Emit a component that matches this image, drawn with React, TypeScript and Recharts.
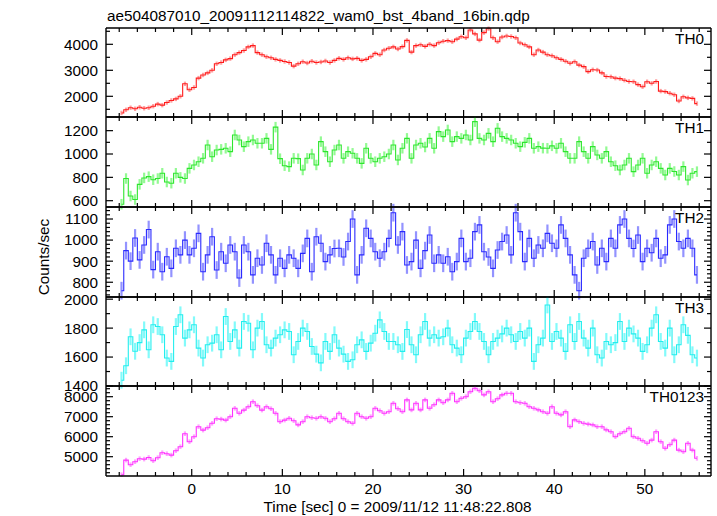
import React from 'react';
import { LineChart, Line, XAxis, YAxis, ErrorBar } from 'recharts';

// ---- data (0.5 s bins, bin centres start at -7.75 s) ----
const binStart = -7.75;
const binWidth = 0.5;

const th0 = [
  1360, 1480, 1560, 1520, 1580, 1540, 1560, 1620, 1700, 1660, 1760, 1840, 1900, 2000, 2480, 2250,
  2340, 2700, 2820, 2900, 3000, 3250, 3300, 3400, 3450, 3600, 3680, 3760, 3900, 3950, 3680, 3600,
  3520, 3480, 3420, 3380, 3340, 3300, 3160, 3250, 3330, 3280, 3350, 3300, 3320, 3360, 3300, 3380,
  3460, 3420, 3480, 3440, 3460, 3380, 3420, 3520, 3650, 3600, 3780, 3850, 3900, 3820, 3910, 4150,
  3700, 3950, 3980, 3920, 4000, 3950, 4060, 4120, 4140, 4100, 4200, 4290, 4250, 4550, 4400, 4160,
  4450, 4600, 4250, 4100, 4280, 4320, 4300, 4250, 4050, 3980, 3900, 3600, 3780, 3700, 3600, 3560,
  3480, 3420, 3350, 3270, 3330, 3200, 3140, 2950, 3020, 3010, 2900, 2760, 2750, 2700, 2680, 2620,
  2570, 2560, 2450, 2370, 2560, 2500, 2570, 2200, 2180, 2120, 2060, 1820, 1980, 1940, 1920, 1720,
];

const th1 = [
  570, 790, 640, 610, 740, 795, 806, 780, 790, 835, 760, 750, 835, 800, 790, 877,
  906, 934, 963, 1077, 977, 1034, 1040, 1049, 1020, 1163, 1120, 1063, 1106, 1120, 1092, 1092,
  1134, 1040, 1230, 960, 900, 892, 963, 960, 863, 963, 1000, 906, 1106, 1020, 934, 1034,
  1077, 963, 1020, 1006, 963, 920, 1049, 963, 934, 963, 977, 1000, 1077, 949, 1049, 1134,
  963, 1077, 1092, 1060, 1134, 1049, 1192, 1149, 1206, 1106, 1149, 1134, 1163, 1120, 1277, 1134,
  1120, 1177, 1106, 1220, 1149, 1134, 1120, 1092, 1063, 1100, 1134, 1049, 1063, 1050, 1049, 1070,
  1049, 1092, 1020, 963, 963, 1106, 1020, 963, 1063, 992, 963, 1020, 934, 900, 863, 906,
  963, 849, 906, 963, 835, 906, 934, 877, 820, 877, 850, 820, 892, 777, 835, 849,
];

const th2 = [
  760, 950, 900, 1010, 906, 977, 1050, 860, 945, 850, 921, 866, 961, 930, 1000, 930,
  961, 1032, 850, 930, 1016, 858, 945, 890, 977, 945, 820, 977, 945, 835, 914, 882,
  985, 930, 835, 914, 866, 930, 914, 866, 937, 1008, 850, 1016, 985, 898, 930, 960,
  961, 920, 993, 1100, 835, 930, 1056, 1008, 945, 914, 945, 1008, 1130, 977, 1040, 882,
  898, 1000, 866, 950, 1024, 890, 930, 890, 921, 850, 898, 1008, 898, 914, 1040, 1072,
  945, 920, 866, 953, 993, 1024, 930, 1130, 1040, 898, 1008, 914, 977, 961, 1032, 985,
  961, 1072, 1008, 930, 835, 760, 914, 961, 993, 882, 961, 898, 1008, 961, 1072, 1100,
  1008, 960, 1024, 898, 961, 940, 1008, 914, 930, 1072, 1100, 993, 961, 1008, 961, 835,
];

const th3 = [
  1440, 1540, 1740, 1640, 1700, 1788, 1650, 1823, 1811, 1754, 1593, 1570, 1811, 1892, 1731, 1788,
  1823, 1662, 1593, 1685, 1696, 1754, 1650, 1880, 1708, 1788, 1662, 1846, 1834, 1650, 1800, 1846,
  1685, 1662, 1731, 1754, 1788, 1777, 1616, 1708, 1800, 1777, 1673, 1620, 1560, 1708, 1639, 1754,
  1662, 1620, 1570, 1581, 1685, 1719, 1639, 1696, 1765, 1857, 1777, 1708, 1708, 1685, 1639, 1790,
  1685, 1616, 1754, 1846, 1731, 1754, 1731, 1740, 1800, 1685, 1662, 1616, 1731, 1777, 1846, 1777,
  1708, 1616, 1708, 1731, 1760, 1800, 1754, 1708, 1777, 1731, 1800, 1570, 1685, 1731, 1960, 1708,
  1777, 1731, 1639, 1823, 1708, 1846, 1731, 1662, 1800, 1616, 1593, 1708, 1685, 1700, 1846, 1708,
  1800, 1760, 1731, 1639, 1685, 1800, 1892, 1708, 1662, 1800, 1616, 1685, 1823, 1750, 1616, 1593,
];

const th0123 = [
  4100, 4830, 4600, 4750, 4900, 4880, 4960, 4800, 4950, 5200, 5150, 5080, 5300, 5500, 6150, 5750,
  6000, 6500, 6330, 6450, 6670, 6900, 6880, 6830, 7000, 7420, 7170, 7330, 7500, 7750, 7550, 7330,
  7500, 7400, 7170, 6750, 6830, 6920, 6800, 6590, 6750, 7000, 6950, 6920, 7000, 6920, 6750, 6900,
  7170, 6900, 6750, 6670, 7170, 7000, 6920, 7000, 7420, 7300, 7170, 7250, 7670, 7400, 7250, 7840,
  7340, 7670, 7340, 7840, 7420, 7600, 7840, 7700, 7840, 8170, 7750, 7920, 8000, 8250, 8420, 8300,
  8090, 8250, 7750, 7900, 8090, 8170, 8170, 7750, 7700, 7670, 7500, 7420, 7340, 7250, 7170, 7500,
  7170, 7090, 7250, 6500, 6840, 6750, 6670, 6630, 6590, 6500, 6500, 6340, 6250, 6000, 6150, 6250,
  6420, 6000, 5920, 5800, 5670, 5830, 6250, 5750, 5420, 5600, 5830, 5330, 5250, 5670, 5330, 4920,
];

// typical 1-sigma errors per band (counts/sec)
const th0Err = 85;
const th1Err = 45;
const th2Err = 42;
const th3Err = 58;
const th0123Err = 115;

// tick values
const xTicks = [-8, -6, -4, -2, 0, 2, 4, 6, 8, 10, 12, 14, 16, 18, 20, 22, 24, 26, 28, 30, 32, 34, 36, 38, 40, 42, 44, 46, 48, 50, 52, 54, 56];
const xMajor = [0, 10, 20, 30, 40, 50];

const th0Major = [2000, 3000, 4000];
const th0Minor = [1500, 2500, 3500, 4500];
const th1Major = [600, 800, 1000, 1200];
const th1Minor = [700, 900, 1100];
const th2Major = [800, 900, 1000, 1100];
const th2Minor = [740, 760, 780, 820, 840, 860, 880, 920, 940, 960, 980, 1020, 1040, 1060, 1080, 1120, 1140];
const th3Major = [1400, 1600, 1800, 2000];
const th3Minor = [1500, 1700, 1900];
const th0123Major = [5000, 6000, 7000, 8000];
const th0123Minor = [4200, 4400, 4600, 4800, 5200, 5400, 5600, 5800, 6200, 6400, 6600, 6800, 7200, 7400, 7600, 7800, 8200, 8400];

const titleText = 'ae504087010_20091112114822_wam0_bst_4band_16bin.qdp';
const yTitle = 'Counts/sec';
const xTitle = 'Time [sec] 0 = 2009/11/12 11:48:22.808';

const times = th0.map((_, i) => binStart + i * binWidth);

// ---- layout / style ----
const W = 717;
const FONT = '"Liberation Sans", Arial, Helvetica, sans-serif';
const FS = 15.3;
const X_DOMAIN: [number, number] = [-9.46, 57.3];
const PLOT_LEFT = 106;
const RIGHT_MARGIN = 6;
const BOTTOM_AXIS_H = 40;
const PAD = 12;
const AX = '#000';
const AXW = 1.4;

const panels = [
  { name: 'TH0', values: th0, err: th0Err, domain: [1204, 4627], major: th0Major, minor: th0Minor, top: 28, height: 89, color: '#ff1c1c', errColor: 'rgba(255,40,40,0.45)' },
  { name: 'TH1', values: th1, err: th1Err, domain: [546, 1317], major: th1Major, minor: th1Minor, top: 117, height: 90, color: '#2ee62e', errColor: 'rgba(40,245,40,0.5)' },
  { name: 'TH2', values: th2, err: th2Err, domain: [730, 1157], major: th2Major, minor: th2Minor, top: 207, height: 90, color: '#2a2aff', errColor: 'rgba(40,40,255,0.5)' },
  { name: 'TH3', values: th3, err: th3Err, domain: [1400, 2015], major: th3Major, minor: th3Minor, top: 297, height: 89, color: '#22eeee', errColor: 'rgba(30,245,245,0.55)' },
  { name: 'TH0123', values: th0123, err: th0123Err, domain: [4035, 8535], major: th0123Major, minor: th0123Minor, top: 386, height: 90, color: '#ff30ff', errColor: 'rgba(255,50,255,0.45)' },
];

const MAJ = 7;
const MIN = 4;

function Panel({ cfg, last }: { cfg: any; last: boolean }) {
  const data = times.map((t, i) => ({ t, v: cfg.values[i], e: cfg.err }));
  const h = PAD + cfg.height + (last ? BOTTOM_AXIS_H : PAD);
  const yTicks = [...cfg.major, ...cfg.minor].sort((a: number, b: number) => a - b);
  const isMaj = (v: number) => cfg.major.includes(v);

  const xBottom = (p: any) => {
    const v = p.payload.value;
    const major = xMajor.includes(v);
    const len = major ? MAJ : MIN;
    return (
      <g>
        <line x1={p.x} x2={p.x} y1={p.y} y2={p.y - len} stroke={AX} strokeWidth={1.2} />
        {last && major ? (
          <text x={p.x} y={p.y + 17.5} textAnchor="middle" fontFamily={FONT} fontSize={FS} fill="#000">{v}</text>
        ) : null}
      </g>
    );
  };
  const xTop = (p: any) => {
    const v = p.payload.value;
    const len = xMajor.includes(v) ? MAJ : MIN;
    return <line x1={p.x} x2={p.x} y1={p.y} y2={p.y + len} stroke={AX} strokeWidth={1.2} />;
  };
  const yLeft = (p: any) => {
    const v = p.payload.value;
    const major = isMaj(v);
    const len = major ? MAJ : MIN;
    return (
      <g>
        <line x1={p.x} x2={p.x + len} y1={p.y} y2={p.y} stroke={AX} strokeWidth={1.2} />
        {major ? (
          <text x={p.x - 8} y={p.y + 5.4} textAnchor="end" fontFamily={FONT} fontSize={FS} fill="#000">{v}</text>
        ) : null}
      </g>
    );
  };
  const yRight = (p: any) => {
    const v = p.payload.value;
    const len = isMaj(v) ? MAJ : MIN;
    return <line x1={p.x} x2={p.x - len} y1={p.y} y2={p.y} stroke={AX} strokeWidth={1.2} />;
  };

  return (
    <div style={{ position: 'absolute', left: 0, top: cfg.top - PAD, width: W, height: h }}>
      <LineChart width={W} height={h} data={data}
        margin={{ top: PAD - 1, right: RIGHT_MARGIN - 1, bottom: last ? 0 : PAD - 1, left: 0 }}>
        <XAxis xAxisId="b" dataKey="t" type="number" domain={X_DOMAIN} allowDataOverflow ticks={xTicks} interval={0}
          orientation="bottom" height={last ? BOTTOM_AXIS_H : 1} tickSize={0} tickMargin={0} tickLine={false}
          axisLine={{ stroke: AX, strokeWidth: AXW }} tick={xBottom} />
        <XAxis xAxisId="t" dataKey="t" type="number" domain={X_DOMAIN} allowDataOverflow ticks={xTicks} interval={0}
          orientation="top" height={1} tickSize={0} tickMargin={0} tickLine={false}
          axisLine={{ stroke: AX, strokeWidth: AXW }} tick={xTop} />
        <YAxis yAxisId="l" type="number" domain={cfg.domain} allowDataOverflow ticks={yTicks} interval={0}
          width={PLOT_LEFT} tickSize={0} tickMargin={0} tickLine={false}
          axisLine={{ stroke: AX, strokeWidth: AXW }} tick={yLeft} />
        <YAxis yAxisId="r" orientation="right" type="number" domain={cfg.domain} allowDataOverflow ticks={yTicks} interval={0}
          width={1} tickSize={0} tickMargin={0} tickLine={false}
          axisLine={{ stroke: AX, strokeWidth: AXW }} tick={yRight} />
        <Line xAxisId="b" yAxisId="l" dataKey="v" type="step" stroke={cfg.color} strokeWidth={1.1}
          dot={false} activeDot={false} isAnimationActive={false}>
          <ErrorBar dataKey="e" width={0} stroke={cfg.errColor} strokeWidth={2.2} direction="y" isAnimationActive={false} />
        </Line>
      </LineChart>
    </div>
  );
}

export default function App() {
  return (
    <div style={{ position: 'absolute', left: 0, top: 0, width: W, height: 516, background: '#fff' }}>
      <svg width={W} height={516} style={{ position: 'absolute', left: 0, top: 0 }}>
        <text x={107} y={20.5} fontFamily={FONT} fontSize={FS} fill="#000">{titleText}</text>
        <text x={49} y={257} transform="rotate(-90 49 257)" textAnchor="middle" fontFamily={FONT} fontSize={FS} fill="#000">{yTitle}</text>
        <text x={397.5} y={511.5} textAnchor="middle" fontFamily={FONT} fontSize={FS} fill="#000">{xTitle}</text>
      </svg>
      {panels.map((p, i) => (
        <Panel key={p.name} cfg={p} last={i === panels.length - 1} />
      ))}
      <svg width={W} height={516} style={{ position: 'absolute', left: 0, top: 0, pointerEvents: 'none' }}>
        {panels.map((p) => (
          <text key={p.name} x={704} y={p.top + 16} textAnchor="end" fontFamily={FONT} fontSize={FS} fill="#000">{p.name}</text>
        ))}
      </svg>
    </div>
  );
}
